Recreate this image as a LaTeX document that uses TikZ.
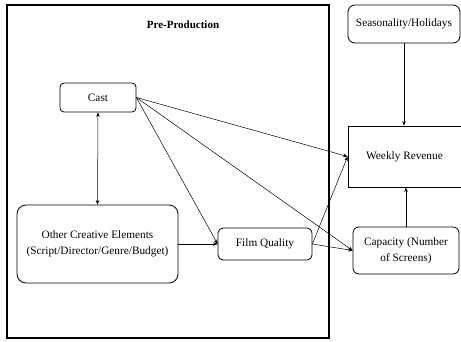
\documentclass[tikz,border=0pt]{standalone}
\usepackage{fontspec}
\setmainfont{Liberation Serif}
\usetikzlibrary{arrows.meta}
\begin{document}
\begin{tikzpicture}[x=1pt,y=-1pt,
  txt/.style={font=\fontsize{11.3}{16}\selectfont, align=center, inner sep=0pt},
  rbox/.style={txt, draw, line width=0.8pt, rounded corners=#1},
  rbox/.default=5pt,
  sbox/.style={txt, draw, line width=0.8pt},
  conn/.style={line width=0.5pt, -{Stealth[length=4.5pt,width=3.5pt]}},
  bconn/.style={line width=0.5pt, {Stealth[length=4.5pt,width=3.5pt]}-{Stealth[length=4.5pt,width=3.5pt]}},
  frame/.style={draw, line width=1.3pt}]
\useasboundingbox (0,0) rectangle (461,341);
\fill[white] (0,0) rectangle (461,341);
\draw[frame] (7,5) rectangle (329,338);
\node[font=\bfseries\fontsize{11}{13}\selectfont] (pre) at (183,25) {Pre-Production};

\node[rbox=4pt, minimum width=76pt, minimum height=29pt] (cast) at (98,97.5) {Cast};
\node[rbox=9pt, minimum width=161pt, minimum height=78pt] (oce) at (97.5,244) {Other Creative Elements\\(Script/Director/Genre/Budget)};
\node[rbox=5pt, minimum width=94pt, minimum height=32pt] (fq) at (265,244) {Film Quality};
\node[rbox=7pt, minimum width=112pt, minimum height=38pt] (seas) at (404,24) {Seasonality/Holidays};
\node[sbox, minimum width=113pt, minimum height=61pt] (wr) at (404.5,156.5) {Weekly Revenue};
\node[rbox=6pt, minimum width=106pt, minimum height=47pt] (cap) at (406,250.5) {Capacity (Number\\of Screens)};

\draw[bconn] (cast.south) -- (oce.north);
\draw[conn] (cast.east) -- (wr.west);
\draw[conn] (cast.east) -- (cap.west);
\draw[conn] (cast.east) -- (fq.west);
\draw[conn] (oce.east) -- (fq.west);
\draw[conn] (fq.east) -- (wr.west);
\draw[conn] (fq.east) -- (cap.west);
\draw[conn] (seas.south) -- (seas.south |- wr.north);
\draw[conn] (cap.north) -- (cap.north |- wr.south);
\end{tikzpicture}
\end{document}
